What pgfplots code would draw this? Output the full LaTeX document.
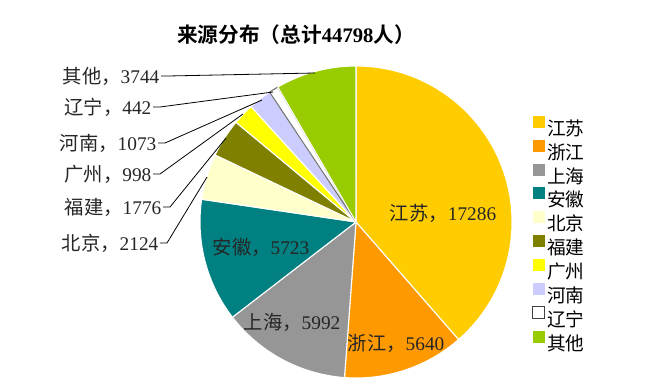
\documentclass[border=0pt]{standalone}
\usepackage{pgfplots}
\pgfplotsset{compat=1.18}
\usepackage{pgfplotstable}
\usepackage{fontspec}
\setmainfont{Liberation Serif}
\newfontfamily\cjk{Noto Sans CJK SC}[BoldFont={* Bold}]

\definecolor{pc0}{HTML}{FFCC00}
\definecolor{pc1}{HTML}{FF9900}
\definecolor{pc2}{HTML}{969696}
\definecolor{pc3}{HTML}{008080}
\definecolor{pc4}{HTML}{FFFFCC}
\definecolor{pc5}{HTML}{808000}
\definecolor{pc6}{HTML}{FFFF00}
\definecolor{pc7}{HTML}{CCCCFF}
\definecolor{pc8}{HTML}{FFFFFF}
\definecolor{pc9}{HTML}{99CC00}
\colorlet{dc0}{white}\colorlet{dc1}{white}\colorlet{dc2}{white}\colorlet{dc3}{white}
\colorlet{dc4}{white}\colorlet{dc5}{white}\colorlet{dc6}{white}\colorlet{dc7}{white}
\colorlet{dc8}{black!55}\colorlet{dc9}{white}

\pgfplotstableread{
idx value
0 17286
1 5640
2 5992
3 5723
4 2124
5 1776
6 998
7 1073
8 442
9 3744
}\piedata

\newcommand{\lab}[2]{{\cjk #1，}#2}

\begin{document}
\begin{tikzpicture}
\begin{axis}[
  width=498.75pt, height=287.25pt, scale only axis,
  xmin=0, xmax=665, ymin=0, ymax=383,
  hide axis, clip=false,
  legend style={draw=none, fill=none, at={(axis cs:528,270)}, anchor=north west,
    font=\cjk\fontsize{14}{15}\selectfont, row sep=0.15pt,
    nodes={inner sep=1.5pt, text height=10.5pt, text depth=1.5pt}},
  legend cell align=left,
  legend image code/.code={\path[#1] (0pt,1.2pt) rectangle (9pt,10.2pt);},
]
\path (axis cs:0,0) (axis cs:665,383);
\def\cum{0}
\pgfplotsforeachungrouped \i in {0,...,9}{%
  \pgfplotstablegetelem{\i}{value}\of\piedata
  \let\v\pgfplotsretval
  \pgfkeys{/pgf/fpu=true,/pgf/fpu/output format=fixed}%
  \pgfmathparse{\v/44798*360}%
  \pgfkeys{/pgf/fpu=false}%
  \let\d\pgfmathresult
  \pgfmathsetmacro{\a}{90-\cum}%
  \pgfmathsetmacro{\b}{90-\cum-\d}%
  \edef\cmd{\noexpand\fill[fill=pc\i, draw=dc\i, line width=0.8pt, line join=round] (axis cs:356,161) -- ++(\a:117pt) arc[start angle=\a, end angle=\b, radius=117pt] -- cycle;}%
  \cmd
  \pgfmathsetmacro{\cum}{\cum+\d}%
}
\addlegendimage{fill=pc0, draw=none}\addlegendentry{江苏}
\addlegendimage{fill=pc1, draw=none}\addlegendentry{浙江}
\addlegendimage{fill=pc2, draw=none}\addlegendentry{上海}
\addlegendimage{fill=pc3, draw=none}\addlegendentry{安徽}
\addlegendimage{fill=pc4, draw=none}\addlegendentry{北京}
\addlegendimage{fill=pc5, draw=none}\addlegendentry{福建}
\addlegendimage{fill=pc6, draw=none}\addlegendentry{广州}
\addlegendimage{fill=pc7, draw=none}\addlegendentry{河南}
\addlegendimage{fill=white, draw=black!75, line width=0.6pt}\addlegendentry{辽宁}
\addlegendimage{fill=pc9, draw=none}\addlegendentry{其他}

% title
\node[font=\cjk\bfseries\fontsize{15.5}{17}\selectfont] at (axis cs:296,348) {来源分布（总计{\rmfamily\bfseries 44798}人）};

% inside labels
\begin{scope}[every node/.style={font=\fontsize{14.5}{16}\selectfont, text=black!85}]
\node at (axis cs:443,170) {\lab{江苏}{17286}};
\node at (axis cs:261,136) {\lab{安徽}{5723}};
\node at (axis cs:292,61) {\lab{上海}{5992}};
\node at (axis cs:396,40) {\lab{浙江}{5640}};
% outside labels
\node[anchor=east, inner sep=1pt] at (axis cs:161,307) {\lab{其他}{3744}};
\node[anchor=east, inner sep=1pt] at (axis cs:153,276) {\lab{辽宁}{442}};
\node[anchor=east, inner sep=1pt] at (axis cs:158,240) {\lab{河南}{1073}};
\node[anchor=east, inner sep=1pt] at (axis cs:153,209) {\lab{广州}{998}};
\node[anchor=east, inner sep=1pt] at (axis cs:163,176) {\lab{福建}{1776}};
\node[anchor=east, inner sep=1pt] at (axis cs:160,140) {\lab{北京}{2124}};
\end{scope}
\begin{scope}[line width=0.6pt]
\draw (axis cs:161,307) -- (axis cs:168,307) -- (axis cs:315,310);
\draw (axis cs:153,276) -- (axis cs:160,276) -- (axis cs:273,291);
\draw (axis cs:158,240) -- (axis cs:165,240) -- (axis cs:262,283);
\draw (axis cs:153,209) -- (axis cs:160,209) -- (axis cs:243,269);
\draw (axis cs:163,176) -- (axis cs:170,176) -- (axis cs:226,245);
\draw (axis cs:160,140) -- (axis cs:167,140) -- (axis cs:207,206);
\end{scope}
\end{axis}
\end{tikzpicture}
\end{document}
